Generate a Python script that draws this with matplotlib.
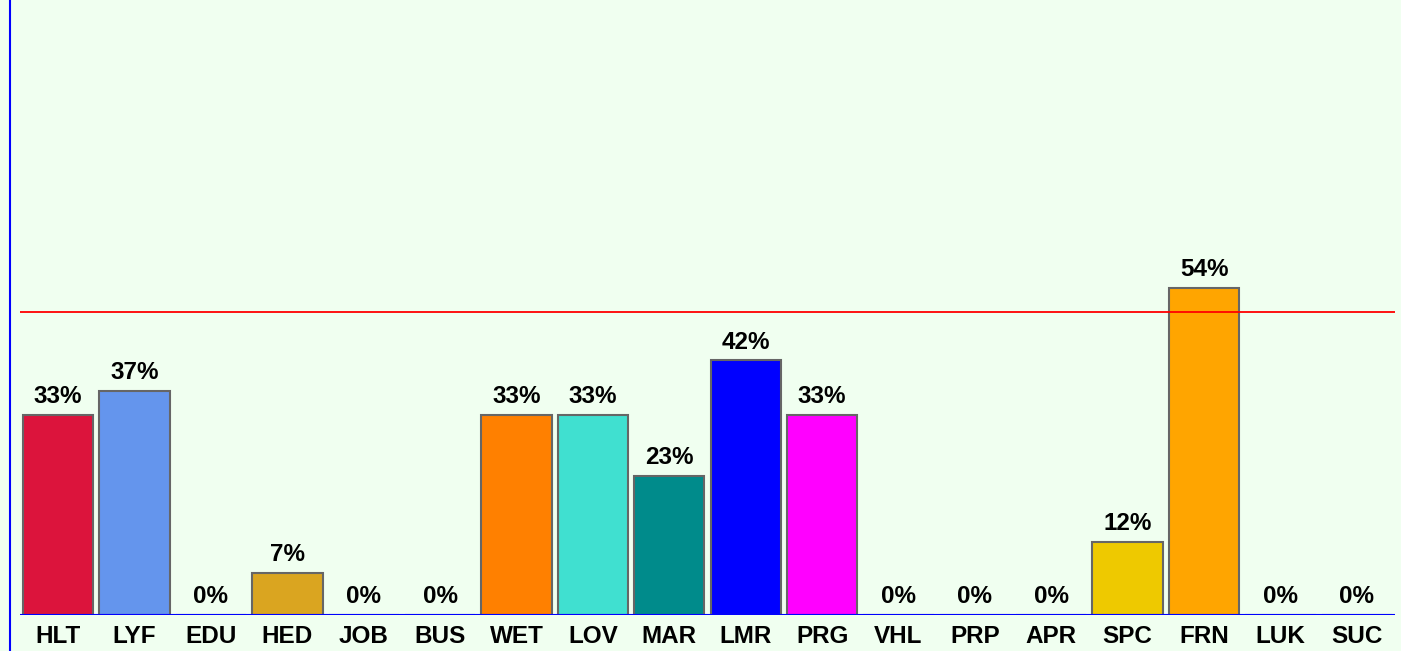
import matplotlib.pyplot as plt
from matplotlib.lines import Line2D

categories = ["HLT", "LYF", "EDU", "HED", "JOB", "BUS", "WET", "LOV", "MAR",
              "LMR", "PRG", "VHL", "PRP", "APR", "SPC", "FRN", "LUK", "SUC"]
values = [33, 37, 0, 7, 0, 0, 33, 33, 23, 42, 33, 0, 0, 0, 12, 54, 0, 0]
colors = ["#DC143C", "#6495ED", "#999999", "#DAA520", "#999999", "#999999",
          "#FF8000", "#40E0D0", "#008B8B", "#0000FF", "#FF00FF", "#999999",
          "#999999", "#999999", "#EEC900", "#FFA500", "#999999", "#999999"]
threshold = 50

plt.rcParams["font.family"] = ["Liberation Sans", "DejaVu Sans"]

W, H = 1401, 651
fig = plt.figure(figsize=(W / 100, H / 100), dpi=100, facecolor="#F0FFF0")
left_px, right_px, base_px = 10, 1395, 615
ax = fig.add_axes([left_px / W, (H - base_px) / H, (right_px - left_px) / W, base_px / H])
ax.set_facecolor("#F0FFF0")

n = len(categories)
slot = (right_px - 20) / n
x = range(n)
ax.bar(x, values, width=0.92, color=colors, edgecolor="#666666", linewidth=1.5, zorder=2)
for i, v in enumerate(values):
    ax.annotate(f"{v}%", (i, v), xytext=(0, 5), textcoords="offset points",
                ha="center", va="bottom", fontsize=17.5, fontweight="bold", zorder=3)

ax.hlines(threshold, -0.5, n - 0.5, color="#FF0000", linewidth=1.3, zorder=4)
ax.hlines(0, -0.5, n - 0.5, color="#0000FF", linewidth=1.5, zorder=3)

ax.set_xlim(-0.5 - 10 / slot, n - 0.5)
ax.set_ylim(0, base_px / 6.06)
ax.set_xticks(list(x))
ax.set_xticklabels(categories, fontsize=17.5, fontweight="bold")
ax.tick_params(axis="x", length=0, pad=7)
ax.set_yticks([])
for s in ax.spines.values():
    s.set_visible(False)

fig.add_artist(Line2D([left_px / W, left_px / W], [0, 1], color="#0000FF", linewidth=1.5))

fig.savefig("out.png", dpi=100, facecolor=fig.get_facecolor())
